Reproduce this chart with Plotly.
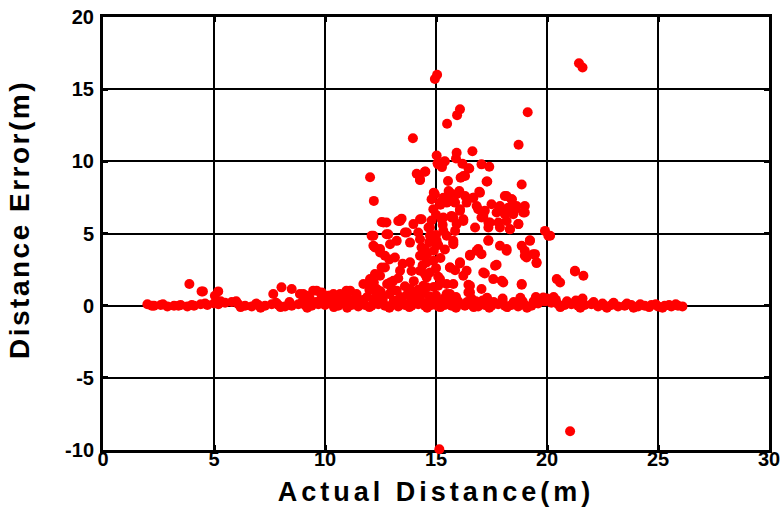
import plotly.graph_objects as go

# Outlier / scattered error points (actual distance, error)
scat_x = [14.95, 15.05, 21.44, 21.6, 16.08, 15.95, 15.5, 19.13, 13.96, 18.72,
          15.03, 15.93, 16.64, 15.07, 15.36, 15.27, 15.9, 16.19, 16.5, 17.05, 17.4, 12.03, 14.13, 14.52, 14.28,
          15.54, 16.23, 16.11, 17.31, 18.86, 18.18, 18.42, 14.9, 15.57, 16.05, 16.95, 12.2,
          15.4, 15.1, 14.95, 14.8, 15.33, 15.63, 15.93, 16.31, 16.68, 16.98, 15.48, 15.86, 16.38, 16.83,
          17.5, 17.88, 18.26, 18.63, 19.0, 17.2, 16.08, 17.73, 18.1, 18.48, 19.0, 15.33, 15.7, 16.23, 15.93,
          17.05, 17.43, 17.81, 18.18, 18.71, 16.76, 17.36, 17.88, 18.33, 12.63, 13.38, 13.98, 14.28, 14.66,
          15.33, 13.68, 14.2, 19.91, 20.14, 12.1, 12.85, 14.8, 15.03, 17.36, 15.78, 17.88, 18.86, 19.23,
          12.25, 12.93, 13.83, 14.35, 16.83, 17.05, 16.53, 18.18, 19.0, 19.38, 19.08, 12.48, 13.15, 13.83,
          14.43, 14.88, 16.08, 17.66, 19.53, 12.7, 13.38, 14.28, 15.63, 16.38, 17.13, 21.26, 21.64, 20.44,
          12.48, 12.03, 13.08, 14.58, 15.18, 16.23, 17.58, 17.96, 15.78, 16.53, 17.05, 18.86, 11.73, 13.83,
          14.58, 11.13, 12.33, 13.23, 15.48, 16.46, 19.83, 9.17, 9.62, 10.15, 10.68,
          3.89, 4.44, 5.19, 5.04, 7.67, 8.04, 8.5, 9.02, 9.47, 9.85, 8.87, 10.2, 10.97, 4.5,
          14.5, 14.28, 12.55, 12.77, 13.3, 13.45, 14.35, 12.18, 12.77, 13.6, 14.73, 15.18, 15.63, 14.88,
          15.25, 15.7, 14.73, 15.78, 15.48, 17.28, 16.31, 16.46, 18.1, 18.4, 18.93, 16.68, 16.08, 16.9,
          17.13, 17.88, 18.56, 17.36, 18.33, 18.71, 16.23, 15.78, 15.86, 20.06, 17.36, 19.23, 15.78, 16.9, 18.18,
          19.0, 19.46, 19.53, 16.53, 16.08, 15.63, 15.86, 17.73, 17.2, 18.03, 18.86, 15.48, 16.46, 16.53,
          15.63, 20.59, 21.26,
          12.18, 12.48, 13.23, 14.28, 15.03, 14.5, 12.7, 14.28, 14.58, 12.55, 14.73, 12.25, 12.03, 12.93,
          13.98, 14.43, 15.1, 10.38, 11.42, 9.85,
          15.15, 21.04]
scat_y = [15.7, 16.0, 16.8, 16.5, 13.6, 13.2, 12.6, 13.4, 11.6, 11.15,
          10.4, 10.6, 10.7, 9.86, 9.97, 9.6, 10.2, 9.84, 9.5, 9.79, 9.63, 8.9, 9.14, 9.3, 8.75,
          8.64, 8.98, 8.87, 8.6, 8.4, 7.6, 7.37, 7.83, 7.95, 7.95, 7.9, 7.26,
          10.0, 9.79, 7.72, 7.37, 7.48, 7.83, 7.72, 7.6, 7.48, 7.83, 7.14, 7.14, 7.14, 6.91,
          7.03, 6.91, 6.79, 6.91, 6.91, 6.57, 6.57, 6.45, 6.34, 6.34, 6.45, 6.11, 6.22, 5.99, 5.65,
          6.11, 5.76, 5.76, 5.87, 5.65, 5.41, 5.41, 5.41, 5.3, 5.76, 5.87, 5.65, 5.99, 5.41,
          5.18, 5.07, 5.07, 5.18, 4.84, 4.84, 4.95, 4.84, 4.49, 4.49, 4.26, 4.15, 4.15, 4.49,
          4.03, 4.26, 4.37, 4.03, 3.8, 3.57, 3.46, 3.8, 3.8, 3.57, 3.34, 3.68, 3.34, 3.0,
          3.46, 3.11, 3.0, 2.76, 3.0, 2.65, 2.42, 2.42, 2.65, 2.42, 2.3, 2.42, 2.07, 1.84,
          2.07, 1.73, 1.73, 1.96, 1.84, 2.07, 1.84, 1.73, 1.5, 1.38, 1.15, 1.5, 1.5, 1.15,
          1.27, 1.04, 1.15, 1.04, 0.81, 0.92, 0.57, 0.69, 1.04, 0.69, 0.81,
          1.5, 0.99, 0.99, 0.69, 0.81, 1.27, 1.15, 0.81, 1.04, 0.69, 0.81, 0.69, 1.04, 0.99,
          9.28, 8.7, 5.8, 5.76, 5.87, 6.03, 5.99, 4.84, 4.95, 5.07, 5.41, 7.14, 7.26, 6.68,
          5.99, 6.11, 4.84, 4.49, 4.84, 8.6, 8.98, 9.52, 7.6, 7.37, 6.45, 7.48, 6.68, 6.68,
          6.22, 6.8, 6.68, 5.76, 5.3, 5.65, 5.87, 6.11, 5.18, 4.84, 4.53, 4.53, 4.37, 3.92, 3.92,
          3.46, 3.57, 2.95, 3.52, 2.93, 2.65, 2.46, 2.84, 2.23, 1.61, 1.45, 1.5, 1.45, 0.92,
          0.81, 1.61, 2.37,
          4.15, 3.92, 4.49, 4.6, 4.26, 3.92, 3.46, 3.46, 3.0, 2.65, 2.3, 2.19, 1.84, 1.61,
          0.92, 1.38, 1.38, 0.81, 0.81, 0.92,
          -9.95, -8.7]

# Points just above the baseline
band_x = [9.3, 9.9, 10.5, 11.0, 11.4, 11.9, 12.3, 12.6, 12.9, 13.4, 13.7, 14.1, 14.4, 14.7, 15.0,
          15.4, 15.9, 16.6, 17.3, 18.0, 18.8, 19.5, 20.3, 12.0, 12.5, 13.0, 13.6, 14.2, 14.9, 12.2,
          12.8, 13.3, 14.0, 14.5, 15.0, 15.2, 14.9, 15.1, 14.6, 13.9, 13.5, 12.9, 15.3, 15.0, 14.8,
          15.2, 15.0, 14.7, 15.4, 15.1, 14.4]
band_y = [0.55, 0.5, 0.55, 0.6, 0.75, 0.6, 0.7, 0.55, 0.8, 0.6, 0.75, 0.55, 0.85, 0.65, 0.7,
          0.55, 0.6, 0.5, 0.55, 0.5, 0.55, 0.6, 0.6, 1.1, 1.0, 1.2, 1.35, 1.1, 1.3, 1.6,
          1.5, 1.9, 1.7, 2.2, 2.6, 3.3, 3.8, 4.2, 3.6, 2.4, 2.9, 3.2, 5.6, 6.3, 5.9,
          7.0, 4.9, 4.4, 3.9, 2.0, 2.8]

# Baseline (near-zero error) rows
base_x = [2.0, 2.3, 2.6, 2.9, 3.2, 3.5, 3.8, 4.1, 4.4, 4.7, 5.0, 5.2, 5.5, 5.8, 6.1, 6.4, 6.7, 7.0,
          7.3, 7.6, 7.9, 8.2, 8.5, 8.8, 9.1, 9.4, 9.7, 10.0, 10.3, 10.6, 10.9, 11.2, 11.5, 11.8, 12.1,
          12.4, 12.7, 13.0, 13.3, 13.6, 13.9, 14.2, 14.5, 14.8, 15.1, 15.4, 15.7, 16.0, 16.3, 16.6,
          16.9, 17.2, 17.5, 17.8, 18.1, 18.4, 18.7, 19.0, 19.3, 19.6, 19.9, 20.2, 20.5, 20.8, 21.1,
          21.4, 21.7, 22.0, 22.3, 22.6, 22.9, 23.2, 23.5, 23.8, 24.1, 24.4, 24.7, 25.0, 25.3, 25.6,
          25.9, 26.1,
          2.2, 2.7, 3.4, 4.0, 4.6, 5.3, 6.0, 6.9, 7.8, 8.4, 9.0, 9.6, 10.2, 10.8, 11.3, 11.7, 12.2,
          12.6, 13.1, 13.5, 13.9, 14.3, 14.7, 15.0, 15.3, 15.6, 16.0, 16.4, 16.8, 17.1, 17.6, 18.0,
          18.5, 18.9, 19.4, 19.8, 20.0, 20.4, 20.9, 21.3, 21.6, 22.1, 22.5, 23.0, 23.6, 24.2, 24.9,
          25.5, 25.8,
          6.2, 7.1, 8.0, 9.2, 10.4, 11.0, 12.0, 12.9, 13.8, 14.6, 15.2, 15.9, 16.7, 17.4, 18.2, 19.1,
          20.6, 21.5, 22.7, 23.9, 24.6, 25.2]
base_y = [0.1, 0.0, 0.05, -0.05, 0.0, 0.05, -0.05, 0.0, 0.1, 0.05, 0.15, 0.1, 0.2, 0.25, 0.1, 0.0,
          -0.05, 0.05, 0.0, 0.1, 0.05, -0.05, 0.0, 0.1, 0.05, 0.0, 0.1, 0.05, 0.15, 0.0, 0.1, 0.05,
          -0.05, 0.05, 0.0, 0.1, 0.0, 0.05, -0.05, 0.05, 0.0, 0.1, 0.0, 0.05, -0.05, 0.05, 0.0, 0.1,
          0.0, 0.05, -0.05, 0.05, 0.0, 0.1, 0.0, 0.05, -0.05, 0.05, 0.0, 0.15, 0.3, 0.2, 0.1, 0.05,
          0.1, 0.0, 0.05, 0.1, -0.05, 0.0, 0.05, -0.05, 0.0, 0.05, -0.05, 0.0, 0.05, -0.05, 0.0,
          -0.05, 0.0, -0.05,
          0.0, 0.1, 0.0, 0.05, 0.15, 0.3, 0.3, 0.15, 0.2, 0.25, 0.3, 0.25, 0.35, 0.3, 0.3, 0.4, 0.35,
          0.3, 0.35, 0.25, 0.3, 0.35, 0.3, 0.4, 0.25, 0.35, 0.3, 0.25, 0.3, 0.35, 0.25, 0.3,
          0.25, 0.3, 0.3, 0.45, 0.5, 0.4, 0.3, 0.35, 0.5, 0.25, 0.15, 0.2, 0.15, 0.1, 0.1,
          0.05, 0.1,
          -0.1, -0.15, -0.1, -0.15, -0.1, -0.15, -0.1, -0.15, -0.1, -0.15, -0.1, -0.15, -0.1, -0.15,
          -0.1, -0.15, -0.1, -0.15, -0.15, -0.15, -0.1, -0.15]

x_ticks = [0, 5, 10, 15, 20, 25, 30]
y_ticks = [-10, -5, 0, 5, 10, 15, 20]

all_x = base_x + band_x + scat_x
all_y = base_y + band_y + scat_y

fig = go.Figure()
fig.add_trace(go.Scatter(
    x=all_x, y=all_y, mode="markers",
    marker=dict(color="#ff0000", size=10, line=dict(width=0)),
    cliponaxis=False, showlegend=False,
))

font_family = "Liberation Sans, Arial, sans-serif"
axis_common = dict(
    showline=True, linewidth=3, linecolor="black", mirror="allticks",
    showgrid=True, gridcolor="black", gridwidth=1.5,
    zeroline=False, ticks="inside", ticklen=5, tickwidth=3, tickcolor="black",
    tickfont=dict(family=font_family, size=20, color="black", weight="bold"),
    layer="below traces", automargin=False, ticklabeloverflow="allow",
)

fig.update_layout(
    width=783, height=510,
    margin=dict(l=103, r=14, t=17, b=60),
    paper_bgcolor="white", plot_bgcolor="white",
    xaxis=dict(range=[0, 30], tickvals=x_ticks, ticktext=[str(v) for v in x_ticks],
               ticklabelstandoff=-11,
               title=dict(text="Actual Distance(m)", standoff=14,
                          font=dict(family=font_family, size=27, color="black", weight="bold")),
               **axis_common),
    yaxis=dict(range=[-10, 20], tickvals=y_ticks, ticktext=[str(v) for v in y_ticks],
               ticklabelstandoff=2,
               title=dict(text="Distance Error(m)", standoff=28,
                          font=dict(family=font_family, size=28, color="black", weight="bold")),
               **axis_common),
)

post_js = """
document.body.style.margin = '0';
var gd = document.getElementsByClassName('plotly-graph-div')[0];
function spread(){
  var xt = gd.querySelector('.xtitle'); if (xt) { xt.style.letterSpacing = '4px'; }
  var yt = gd.querySelector('.ytitle');
  if (yt) {
    yt.style.letterSpacing = '2.5px';
    var tr = yt.getAttribute('transform') || '';
    if (tr.indexOf('translate(0,-14)') === -1) {
      yt.setAttribute('transform', 'translate(0,-14) ' + tr);
    }
  }
}
spread();
gd.on('plotly_afterplot', spread);
"""

fig.write_html("out.html", post_script=post_js, config={"displayModeBar": False})
